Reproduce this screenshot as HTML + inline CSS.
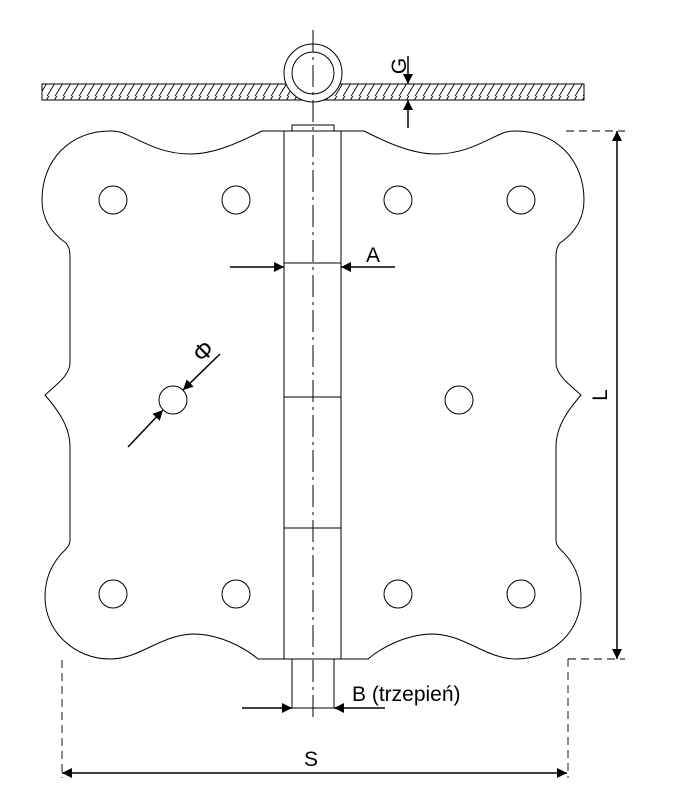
<!DOCTYPE html>
<html><head><meta charset="utf-8"><style>body{margin:0;background:#fff}svg{display:block}</style></head><body>
<svg width="693" height="800" viewBox="0 0 693 800" xmlns="http://www.w3.org/2000/svg" font-family="Liberation Sans, sans-serif">
<defs>
<pattern id="h" width="8" height="16" patternUnits="userSpaceOnUse"><path d="M-2,18 L10,-2 M6,18 L18,-2 M-10,18 L2,-2" stroke="#000" stroke-width="0.9"/></pattern>
<marker id="a" viewBox="0 0 10 10" refX="10" refY="5" markerWidth="12" markerHeight="10" markerUnits="userSpaceOnUse" orient="auto"><path d="M0,0 L10,5 L0,10 z" fill="#000"/></marker>
</defs>
<g fill="none" stroke="#000" stroke-width="1">
<rect x="42" y="84" width="542" height="16" fill="url(#h)"/>
<circle cx="313" cy="73" r="29" fill="#fff"/>
<circle cx="313" cy="73" r="21"/>
<path d="M284,131 L262,131 C240,142 215,154 190,154 C160,154 140,140 123,133 C118,131 114,131 110,131 C70,131 42,160 42,200 C42,218 50,232 66,243 C69,247 70,250 70,258 L70,363 C70,375 56,385 45,395 C56,408 70,425 70,447 L70,540 C70,545 67,548 66,549 C52,562 45,578 45,597 C45,632 75,659 110,659 C140,659 160,635 193,634 C220,634 245,648 258,659 L368,659 C381,648 406,634 433,634 C466,635 486,659 516,659 C551,659 581,632 581,597 C581,578 574,562 560,549 C559,548 556,545 556,540 L556,447 C556,425 570,408 581,395 C570,385 556,375 556,363 L556,258 C556,250 557,247 560,243 C576,232 584,218 584,200 C584,160 556,131 516,131 C512,131 508,131 503,133 C486,140 466,154 436,154 C411,154 386,142 364,131 L284,131"/>
<rect x="284" y="131" width="57" height="528"/>
<rect x="292" y="125" width="42" height="6"/>
<line x1="284" y1="263" x2="341" y2="263"/>
<line x1="284" y1="397" x2="341" y2="397"/>
<line x1="284" y1="528" x2="341" y2="528"/>
<rect x="292" y="659" width="42" height="49"/>
<line x1="313" y1="30" x2="313" y2="718" stroke-dasharray="22,5,3,5"/>
<circle cx="113" cy="200" r="14"/><circle cx="236" cy="200" r="14"/>
<circle cx="113" cy="594" r="14"/><circle cx="236" cy="594" r="14"/>
<circle cx="398" cy="200" r="14"/><circle cx="521" cy="200" r="14"/>
<circle cx="398" cy="594" r="14"/><circle cx="521" cy="594" r="14"/>
<circle cx="173" cy="400" r="14"/><circle cx="459" cy="400" r="14"/>
<g stroke-width="1.5">
<line x1="230" y1="267" x2="284" y2="267" marker-end="url(#a)"/>
<line x1="395" y1="267" x2="341" y2="267" marker-end="url(#a)"/>
<line x1="408" y1="56" x2="408" y2="84" marker-end="url(#a)"/>
<line x1="408" y1="128" x2="408" y2="100" marker-end="url(#a)"/>
<line x1="617" y1="395" x2="617" y2="131" marker-end="url(#a)"/>
<line x1="617" y1="395" x2="617" y2="659" marker-end="url(#a)"/>
<line x1="300" y1="773" x2="62" y2="773" marker-end="url(#a)"/>
<line x1="300" y1="773" x2="567" y2="773" marker-end="url(#a)"/>
<line x1="242" y1="708" x2="292" y2="708" marker-end="url(#a)"/>
<line x1="385" y1="708" x2="334" y2="708" marker-end="url(#a)"/>
<line x1="128" y1="447" x2="163" y2="410" marker-end="url(#a)"/>
<line x1="220" y1="354" x2="183" y2="390" marker-end="url(#a)"/>
</g>
<g stroke-dasharray="8,5" stroke-width="0.9">
<line x1="566" y1="131" x2="625" y2="131"/>
<line x1="568" y1="659" x2="625" y2="659"/>
<line x1="568" y1="659" x2="568" y2="778"/>
<line x1="62" y1="660" x2="62" y2="778"/>
</g>
</g>
<g font-size="21" fill="#000">
<text x="366" y="262">A</text>
<text x="352" y="701">B (trzepień)</text>
<text x="304" y="766">S</text>
<text transform="translate(607,395) rotate(-90)" text-anchor="middle">L</text>
<text transform="translate(406,66) rotate(-90)" text-anchor="middle">G</text>
<text transform="translate(209,357) rotate(-45)" text-anchor="middle" font-size="24">Φ</text>
</g>
</svg>
</body></html>
